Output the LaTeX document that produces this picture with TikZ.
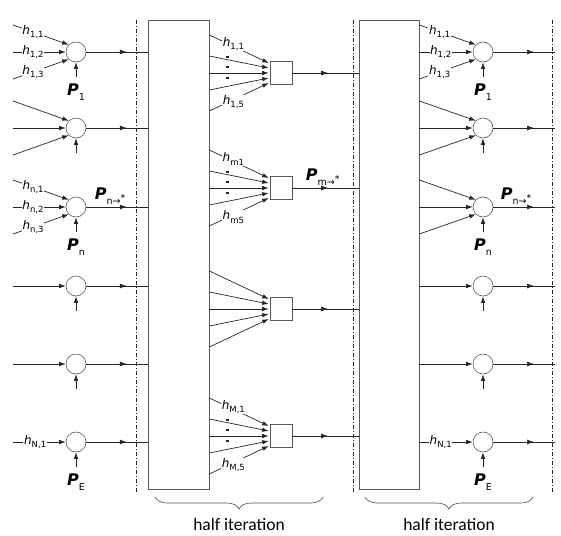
\documentclass[tikz,border=0pt]{standalone}
\usepackage{fontspec}
\setmainfont{DejaVu Sans}
\newfontfamily\calfont{Carlito}
\usetikzlibrary{arrows.meta,positioning,calc,decorations.markings,decorations.pathreplacing}

\newcommand{\hsub}[1]{\textit{h}\raisebox{-0.55ex}{\fontsize{8.5}{9}\selectfont #1}}
\newcommand{\Psub}[1]{\textbf{\textit{P}}\raisebox{-0.6ex}{\fontsize{9.5}{10}\selectfont #1}}
\newcommand{\tostar}{→\raisebox{0.7ex}{*}}

\begin{document}
\begin{tikzpicture}[
    x=1pt, y=-1pt,
    font=\fontsize{12}{14}\selectfont,
    wire/.style={draw=black!85, line width=0.7pt},
    arr/.style={wire, -{Latex[length=6.5pt,width=4.5pt]}},
    midarr/.style={wire, postaction={decorate},
        decoration={markings, mark=at position #1 with {\arrow{Latex[length=7pt,width=5pt]}}}},
    sumnode/.style={circle, draw=black!65, line width=0.6pt, minimum size=20pt, inner sep=0pt},
    fnode/.style={rectangle, draw=black!65, line width=0.6pt, minimum width=22pt, minimum height=23pt, inner sep=0pt},
    block/.style={rectangle, draw=black!65, line width=0.7pt, minimum width=61pt, minimum height=469pt, inner sep=0pt},
    tag/.style={fill=white, inner sep=0.6pt},
    plab/.style={font=\fontsize{16}{16}\selectfont, inner sep=0pt},
    sep/.style={draw=black!85, line width=0.8pt, dash pattern=on 4pt off 2pt on 1pt off 2pt},
    brc/.style={draw=black!70, line width=0.6pt, decorate, decoration={brace, mirror, amplitude=12pt}},
    itlab/.style={font=\calfont\fontsize{17.5}{19}\selectfont, inner sep=0pt},
]
    \path[use as bounding box] (0,0) rectangle (561,535);

    % summing nodes and blocks
    \foreach \i/\y in {1/52,2/128,3/207,4/286,5/364,6/442} {
        \node[sumnode] (c\i) at (76,\y) {};
        \node[sumnode] (d\i) at (483,\y) {};
    }
    \node[block] (bl) at (178.5,254.5) {};
    \node[block,minimum width=60pt] (br) at (389,254.5) {};
    \foreach \j/\y in {1/73,2/188,3/309,4/436}
        \node[fnode] (f\j) at (281,\y) {};

    \coordinate (lin) at (13,0);
    \coordinate (rend) at (555,0);

    % separators
    \foreach \k/\x in {1/136,2/353,3/552} {
        \coordinate (st\k) at (\x,20);
        \coordinate (sb\k) at (\x,494);
        \draw[sep] (st\k) -- (sb\k);
    }

    % left inputs
    \draw[arr] ($(c1 -| lin)+(0,-27)$) -- node[tag,pos=0.36] (hl11) {\hsub{1,1}} (c1.135);
    \draw[arr] (c1 -| lin) -- node[tag,pos=0.38] (hl12) {\hsub{1,2}} (c1.west);
    \draw[arr] ($(c1 -| lin)+(0,27)$) -- node[tag,pos=0.36] (hl13) {\hsub{1,3}} (c1.225);
    \draw[arr] ($(c2 -| lin)+(0,-27)$) -- (c2.135);
    \draw[arr] (c2 -| lin) -- (c2.west);
    \draw[arr] ($(c2 -| lin)+(0,27)$) -- (c2.225);
    \draw[arr] ($(c3 -| lin)+(0,-27)$) -- node[tag,pos=0.36] (hln1) {\hsub{n,1}} (c3.135);
    \draw[arr] (c3 -| lin) -- node[tag,pos=0.38] (hln2) {\hsub{n,2}} (c3.west);
    \draw[arr] ($(c3 -| lin)+(0,27)$) -- node[tag,pos=0.36] (hln3) {\hsub{n,3}} (c3.225);
    \draw[arr] (c4 -| lin) -- (c4.west);
    \draw[arr] (c5 -| lin) -- (c5.west);
    \draw[arr] (c6 -| lin) -- node[tag,pos=0.42] (hlN1) {\hsub{N,1}} (c6.west);

    % right inputs
    \draw[arr] ($(d1 -| br.east)+(0,-27)$) -- node[tag,pos=0.36] (hr11) {\hsub{1,1}} (d1.135);
    \draw[arr] (d1 -| br.east) -- node[tag,pos=0.4] (hr12) {\hsub{1,2}} (d1.west);
    \draw[arr] ($(d1 -| br.east)+(0,27)$) -- node[tag,pos=0.36] (hr13) {\hsub{1,3}} (d1.225);
    \foreach \i in {2,3} {
        \draw[arr] ($(d\i -| br.east)+(0,-27)$) -- (d\i.135);
        \draw[arr] (d\i -| br.east) -- (d\i.west);
        \draw[arr] ($(d\i -| br.east)+(0,27)$) -- (d\i.225);
    }
    \draw[arr] (d4 -| br.east) -- (d4.west);
    \draw[arr] (d5 -| br.east) -- (d5.west);
    \draw[arr] (d6 -| br.east) -- node[tag,pos=0.4] (hrN1) {\hsub{N,1}} (d6.west);

    % outputs of summing nodes
    \foreach \i in {1,2,4,5,6} {
        \draw[midarr=0.66] (c\i) -- (c\i -| bl.west);
        \draw[midarr=0.66] (d\i) -- (d\i -| rend);
    }
    \draw[midarr=0.66] (c3) -- node[plab,above=2pt,pos=0.39] (pnl) {\Psub{n\tostar}} (c3 -| bl.west);
    \draw[midarr=0.66] (d3) -- node[plab,above=2pt,pos=0.37] (pnr) {\Psub{n\tostar}} (d3 -| rend);

    % priors from below
    \foreach \i in {1,...,6} {
        \coordinate[below=15pt of c\i] (uc\i);
        \coordinate[below=15pt of d\i] (ud\i);
        \draw[arr] (uc\i) -- (c\i);
        \draw[arr] (ud\i) -- (d\i);
    }
    \node[plab,below=6pt of uc1] (pc1) {\Psub{1}};
    \node[plab,below=6pt of uc3] (pc3) {\Psub{n}};
    \node[plab,below=6pt of uc6] (pc6) {\Psub{E}};
    \node[plab,below=6pt of ud1] (pd1) {\Psub{1}};
    \node[plab,below=6pt of ud3] (pd3) {\Psub{n}};
    \node[plab,below=6pt of ud6] (pd6) {\Psub{E}};

    % lines into the function nodes
    \foreach \j in {1,...,4} {
        \foreach \o/\t in {-38/-10,-17/-5,0/0,17/5,38/10}
            \draw[arr] ($(bl.east |- f\j)+(0,\o)$) -- ($(f\j.west)+(-1,\t)$);
    }
    \foreach \j in {1,2,4}
        \foreach \d in {-17.3,-7.3,3.7}
            \fill[black!85] ($(bl.east |- f\j)+(16.7,\d)$) rectangle +(2.6,2.6);
    \node[tag] (hm1a) at ($(bl.east |- f1)+(24,-29)$) {\hsub{1,1}};
    \node[tag] (hm1b) at ($(bl.east |- f1)+(24,29)$) {\hsub{1,5}};
    \node[tag] (hm2a) at ($(bl.east |- f2)+(24,-29)$) {\hsub{m1}};
    \node[tag] (hm2b) at ($(bl.east |- f2)+(24,29)$) {\hsub{m5}};
    \node[tag] (hm4a) at ($(bl.east |- f4)+(24,-29)$) {\hsub{M,1}};
    \node[tag] (hm4b) at ($(bl.east |- f4)+(24,29)$) {\hsub{M,5}};

    % outputs of function nodes
    \foreach \j in {1,3,4}
        \draw[midarr=0.54] (f\j) -- (f\j -| br.west);
    \draw[midarr=0.54] (f2) -- node[plab,above=2pt,pos=0.46] (pm) {\Psub{m\tostar}} (f2 -| br.west);

    % braces
    \coordinate (ba1) at (155,497);
    \coordinate (bb1) at (323,497);
    \coordinate (ba2) at (365,497);
    \coordinate (bb2) at (533,497);
    \draw[brc] (ba1) -- (bb1);
    \draw[brc] (ba2) -- (bb2);
    \node[itlab,below=21pt] (hi1) at ($(ba1)!0.5!(bb1)$) {half iteration};
    \node[itlab,below=21pt] (hi2) at ($(ba2)!0.5!(bb2)$) {half iteration};
\end{tikzpicture}
\end{document}
